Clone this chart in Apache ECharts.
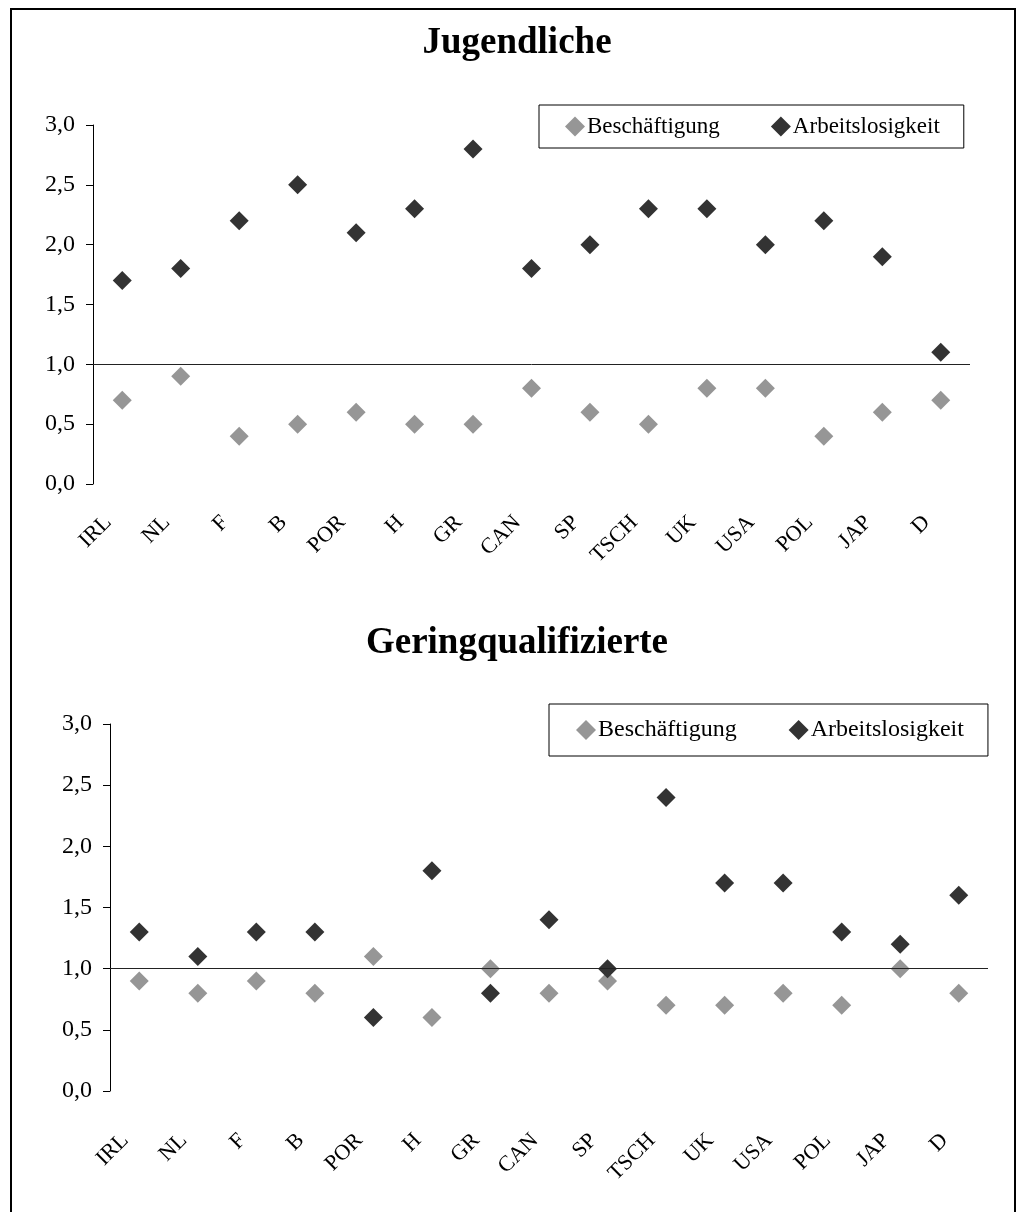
<!DOCTYPE html>
<html>
<head>
<meta charset="utf-8">
<script src="https://cdn.jsdelivr.net/npm/echarts@6/dist/echarts.min.js"></script>
<style>html,body{margin:0;padding:0;background:#fff}#c{width:1034px;height:1212px}</style>
</head>
<body>
<div id="c"></div>
<script>
const categories = ['IRL','NL','F','B','POR','H','GR','CAN','SP','TSCH','UK','USA','POL','JAP','D'];
const yTicks = [0, 0.5, 1.0, 1.5, 2.0, 2.5, 3.0];
const titles = ['Jugendliche', 'Geringqualifizierte'];
const seriesNames = ['Beschäftigung', 'Arbeitslosigkeit'];
const jugBeschaeftigung = [0.7, 0.9, 0.4, 0.5, 0.6, 0.5, 0.5, 0.8, 0.6, 0.5, 0.8, 0.8, 0.4, 0.6, 0.7];
const jugArbeitslosigkeit = [1.7, 1.8, 2.2, 2.5, 2.1, 2.3, 2.8, 1.8, 2.0, 2.3, 2.3, 2.0, 2.2, 1.9, 1.1];
const gerBeschaeftigung = [0.9, 0.8, 0.9, 0.8, 1.1, 0.6, 1.0, 0.8, 0.9, 0.7, 0.7, 0.8, 0.7, 1.0, 0.8];
const gerArbeitslosigkeit = [1.3, 1.1, 1.3, 1.3, 0.6, 1.8, 0.8, 1.4, 1.0, 2.4, 1.7, 1.7, 1.3, 1.2, 1.6];
const refLine = 1.0;

const FONT = "'Liberation Serif', 'Times New Roman', serif";
const GRAY = '#969696', DARK = '#333333';
const chart = echarts.init(document.getElementById('c'), null, {renderer: 'canvas'});

function xAx(gi, margin) {
  return {
    type: 'category', gridIndex: gi, data: categories, boundaryGap: true,
    axisLine: {show: false}, axisTick: {show: false}, splitLine: {show: false},
    axisLabel: {interval: 0, rotate: 45, margin: margin, padding: [0, 20, 0, 0],
      fontFamily: FONT, fontSize: 22, color: '#000'}
  };
}
function yAx(gi) {
  return {
    type: 'value', gridIndex: gi, min: yTicks[0], max: yTicks[yTicks.length - 1], interval: 0.5,
    axisLine: {show: true, lineStyle: {color: '#000', width: 1}},
    axisTick: {show: true, length: 7, inside: false, lineStyle: {color: '#000'}},
    splitLine: {show: false},
    axisLabel: {margin: 18, fontFamily: FONT, fontSize: 24, color: '#000',
      formatter: v => v.toFixed(1).replace('.', ',')}
  };
}
function sc(name, gi, data, color, withLine) {
  const s = {
    name: name, type: 'scatter', xAxisIndex: gi, yAxisIndex: gi, data: data,
    symbol: 'diamond', symbolSize: 19, itemStyle: {color: color, opacity: 1},
    emphasis: {disabled: true}
  };
  if (withLine) {
    s.markLine = {silent: true, symbol: 'none', label: {show: false},
      lineStyle: {color: '#222', width: 1, type: 'solid', opacity: 1}, data: [{yAxis: refLine}],
      animation: false};
  }
  return s;
}
function legend(gi, left, top, pad, gap, fs) {
  return {
    left: left, top: top, padding: pad, itemGap: gap, itemWidth: 20, itemHeight: 20,
    borderColor: '#000', borderWidth: 1,
    data: seriesNames.map(n => ({name: n, icon: 'diamond'})),
    textStyle: {fontFamily: FONT, fontSize: fs, color: '#000', padding: [0, 0, 0, -3]},
    selectedMode: false
  };
}

chart.setOption({
  animation: false,
  title: [
    {text: titles[0], left: 'center', top: 20, textStyle: {fontFamily: FONT, fontSize: 37, fontWeight: 'bold', color: '#000'}},
    {text: titles[1], left: 'center', top: 620, textStyle: {fontFamily: FONT, fontSize: 37, fontWeight: 'bold', color: '#000'}}
  ],
  legend: [
    legend(0, 539, 105, [10, 24, 10, 26], 51, 23),
    legend(1, 549, 704, [14, 24, 14, 27], 52, 24)
  ],
  grid: [
    {left: 93, top: 125, width: 877, height: 359},
    {left: 110, top: 724, width: 878, height: 367}
  ],
  xAxis: [xAx(0, 21), xAx(1, 32)],
  yAxis: [yAx(0), yAx(1)],
  series: [
    sc(seriesNames[0], 0, jugBeschaeftigung, GRAY, true),
    sc(seriesNames[1], 0, jugArbeitslosigkeit, DARK, false),
    sc(seriesNames[0], 1, gerBeschaeftigung, GRAY, true),
    sc(seriesNames[1], 1, gerArbeitslosigkeit, DARK, false)
  ],
  graphic: [
    {type: 'rect', shape: {x: 11, y: 9, width: 1004, height: 1260}, style: {fill: 'none', stroke: '#000', lineWidth: 2}, silent: true}
  ]
});
</script>
</body>
</html>
